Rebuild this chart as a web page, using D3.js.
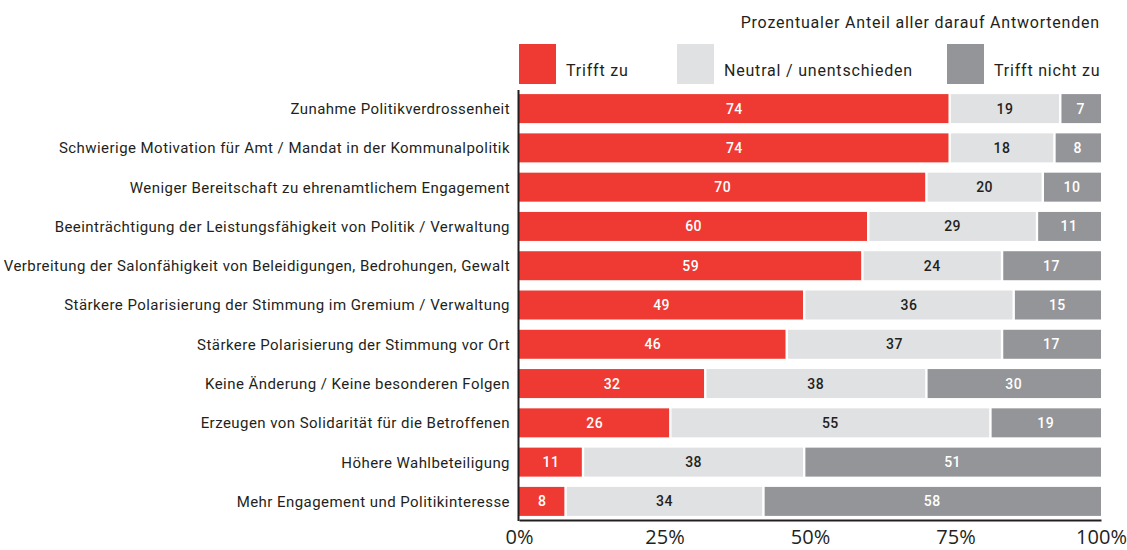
<!DOCTYPE html>
<html>
<head>
<meta charset="utf-8">
<script src="https://cdn.jsdelivr.net/npm/d3@7/dist/d3.min.js"></script>
<style>
  body { margin: 0; background: #fff; }
  svg { display: block; }
  text { font-family: Roboto, "Noto Sans", sans-serif; fill: #231f20; }
</style>
</head>
<body>
<script>
var width = 1127
var height = 550

var categories = [
  'Zunahme Politikverdrossenheit',
  'Schwierige Motivation für Amt / Mandat in der Kommunalpolitik',
  'Weniger Bereitschaft zu ehrenamtlichem Engagement',
  'Beeinträchtigung der Leistungsfähigkeit von Politik / Verwaltung',
  'Verbreitung der Salonfähigkeit von Beleidigungen, Bedrohungen, Gewalt',
  'Stärkere Polarisierung der Stimmung im Gremium / Verwaltung',
  'Stärkere Polarisierung der Stimmung vor Ort',
  'Keine Änderung / Keine besonderen Folgen',
  'Erzeugen von Solidarität für die Betroffenen',
  'Höhere Wahlbeteiligung',
  'Mehr Engagement und Politikinteresse'
]
var trifftZu = [74, 74, 70, 60, 59, 49, 46, 32, 26, 11, 8]
var neutral = [19, 18, 20, 29, 24, 36, 37, 38, 55, 38, 34]
var trifftNicht = [7, 8, 10, 11, 17, 15, 17, 30, 19, 51, 58]

var seriesNames = ['Trifft zu', 'Neutral / unentschieden', 'Trifft nicht zu']
var seriesColors = ['#ee3a32', '#e0e1e3', '#939598']
var labelColors = ['#ffffff', '#231f20', '#ffffff']
var tickValues = [0, 25, 50, 75, 100]
var title = 'Prozentualer Anteil aller darauf Antwortenden'

var rows = categories.map(function (c, i) {
  return { name: c, values: [trifftZu[i], neutral[i], trifftNicht[i]] }
})

var x = d3.scaleLinear()
    .domain([0, 100])
    .range([519, 1101])

var y = d3.scaleBand()
    .domain(categories)
    .range([89, 521])
    .paddingInner(0.262)
    .paddingOuter(0.13)

var svg = d3.select('body').append('svg')
    .attr('width', width)
    .attr('height', height)

// title
svg.append('text')
    .attr('x', 1100)
    .attr('y', 28)
    .attr('text-anchor', 'end')
    .style('font-size', '16px')
    .style('letter-spacing', '0.8px')
    .text(title)

// legend
var legendX = [519, 677, 947]
var legend = svg.selectAll('.legend')
    .data(seriesNames)
  .enter().append('g')
    .attr('class', 'legend')
    .attr('transform', function (d, i) { return 'translate(' + legendX[i] + ',44)' })

legend.append('rect')
    .attr('width', 37)
    .attr('height', 40)
    .style('fill', function (d, i) { return seriesColors[i] })

legend.append('text')
    .attr('x', 47)
    .attr('y', 32)
    .style('font-size', '16px')
    .style('letter-spacing', '0.8px')
    .text(function (d) { return d })

// bars
var gap = 1.2
var row = svg.selectAll('.row')
    .data(rows)
  .enter().append('g')
    .attr('class', 'row')
    .attr('transform', function (d) { return 'translate(0,' + y(d.name) + ')' })

var seg = row.selectAll('.seg')
    .data(function (d) {
      var start = 0
      return d.values.map(function (v, i) {
        var s = { v: v, i: i, x0: start, x1: start + v }
        start += v
        return s
      })
    })
  .enter().append('g')
    .attr('class', 'seg')

seg.append('rect')
    .attr('x', function (d) { return x(d.x0) + (d.i > 0 ? gap : 0) })
    .attr('width', function (d) {
      return x(d.x1) - x(d.x0) - (d.i > 0 ? gap : 0) - (d.i < 2 ? gap : 0)
    })
    .attr('height', y.bandwidth())
    .style('fill', function (d) { return seriesColors[d.i] })

seg.append('text')
    .attr('x', function (d) { return (x(d.x0) + x(d.x1)) / 2 })
    .attr('y', y.bandwidth() / 2)
    .attr('dy', '0.36em')
    .attr('text-anchor', 'middle')
    .style('font-size', '14px')
    .style('font-weight', 500)
    .style('letter-spacing', '0.5px')
    .style('fill', function (d) { return labelColors[d.i] })
    .text(function (d) { return d.v })

// category labels
svg.append('g').selectAll('text')
    .data(categories)
  .enter().append('text')
    .attr('x', 510)
    .attr('y', function (d) { return y(d) + y.bandwidth() / 2 })
    .attr('dy', '0.36em')
    .attr('text-anchor', 'end')
    .style('font-size', '15px')
    .style('letter-spacing', '0.45px')
    .text(function (d) { return d })

// axes
var xAxis = d3.axisBottom(x)
    .tickValues(tickValues)
    .tickSize(0)
    .tickPadding(10)
    .tickFormat(function (d) { return d + '%' })

var gx = svg.append('g')
    .attr('transform', 'translate(0,520)')
    .call(xAxis)
gx.select('.domain').attr('stroke', '#231f20').attr('stroke-width', 2)
gx.selectAll('text')
    .style('font-family', '"Open Sans", sans-serif')
    .style('font-size', '20px')
    .style('fill', '#231f20')

svg.append('line')
    .attr('x1', 518.5)
    .attr('x2', 518.5)
    .attr('y1', 90)
    .attr('y2', 521)
    .attr('stroke', '#231f20')
    .attr('stroke-width', 2)
</script>
</body>
</html>
